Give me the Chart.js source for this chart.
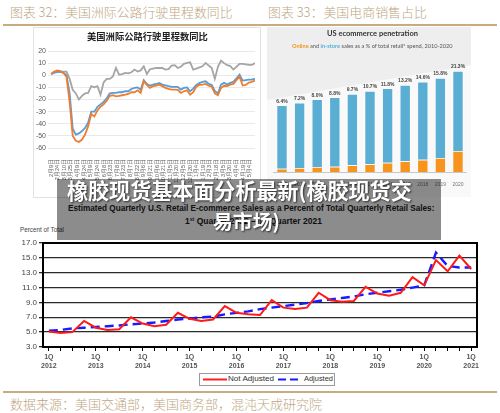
<!DOCTYPE html>
<html><head><meta charset="utf-8">
<script src="https://cdn.jsdelivr.net/npm/chart.js@4.4.1/dist/chart.umd.min.js"></script>
<style>
html,body{margin:0;padding:0;background:#fff;}
body{width:500px;height:413px;overflow:hidden;position:relative;font-family:"Noto Sans CJK SC","Liberation Sans",sans-serif;}
.a{position:absolute;white-space:nowrap;line-height:1;}
.hd{color:#c0a67f;font-weight:300;}
canvas{position:absolute;}
</style></head><body>
<div class="a hd" id="h1">图表 32：美国洲际公路行驶里程数同比</div>
<div class="a hd" id="h2">图表 33：美国电商销售占比</div>
<div class="a" style="left:3px;top:24px;width:494px;height:2px;background:#c9ab80"></div>

<div class="a" style="left:33px;top:27px;width:226px;height:169px;border:1px solid #e2e2e2;background:#fff"></div>
<canvas id="c1" width="227" height="170" style="left:33px;top:27px"></canvas>
<div class="a" id="t1" style="font-weight:bold;color:#222">美国洲际公路行驶里程数同比</div>

<div class="a" style="left:267px;top:27px;width:204px;height:170px;background:#eeeeee"></div>
<div class="a" style="left:267px;top:27px;width:204px;height:170px;background:#f9f9f9;clip-path:polygon(0 73px,100% 38px,100% 100%,0 100%)"></div>
<canvas id="c2" width="204" height="170" style="left:267px;top:27px"></canvas>
<div class="a" id="t2" style="font-family:Lato;font-weight:bold;color:#333">US ecommerce penetration</div>
<div class="a" id="t3" style="font-family:Lato;color:#555"><span style="color:#f7941d;font-weight:bold">Online</span> and <span style="color:#4fb0d8;font-weight:bold">in-store</span> sales as a % of total retail* spend, 2010-2020</div>

<div class="a" id="b1" style="font-family:'Liberation Sans';font-weight:bold;color:#222">Estimated Quarterly U.S. Retail E-commerce Sales as a Percent of Total Quarterly Retail Sales:</div>
<div class="a" id="b2" style="font-family:'Liberation Sans';font-weight:bold;color:#222">1<span style="font-size:0.6em;vertical-align:0.6em">st</span> Quarter 2012 – 1<span style="font-size:0.6em;vertical-align:0.6em">st</span> Quarter 2021</div>
<div class="a" id="pt" style="font-family:'Liberation Sans';color:#444">Percent of Total</div>
<canvas id="c3" width="500" height="150" style="left:0;top:230px"></canvas>

<div class="a" style="left:199px;top:373px;width:134px;height:11px;border:1px solid #9a9a9a;background:#fff"></div>
<svg class="a" style="left:199px;top:373px" width="136" height="13">
  <line x1="4" y1="6.5" x2="28" y2="6.5" stroke="#ff2020" stroke-width="2"/>
  <line x1="79" y1="6.5" x2="103" y2="6.5" stroke="#1a1aff" stroke-width="2" stroke-dasharray="8,4"/>
</svg>
<div class="a" id="l1" style="font-family:'Liberation Sans';color:#333">Not Adjusted</div>
<div class="a" id="l2" style="font-family:'Liberation Sans';color:#333">Adjusted</div>

<div class="a" style="left:57px;top:179px;width:384px;height:61px;background:rgba(0,0,0,0.45)"></div>
<div class="a" id="o1" style="font-weight:bold;color:#fff;text-shadow:1px 1px 2px rgba(0,0,0,0.7)">橡胶现货基本面分析最新(橡胶现货交</div>
<div class="a" id="o2" style="font-weight:bold;color:#fff;text-shadow:1px 1px 2px rgba(0,0,0,0.7)">易市场)</div>

<div class="a" style="left:3px;top:391px;width:494px;height:2px;background:#c9ab80"></div>
<div class="a hd" id="ft">数据来源：美国交通部，美国商务部，混沌天成研究院</div>

<script>
// ---------- Chart 32: US interstate highway miles YoY ----------
const hwDays = [0,7,14,21,28,35,42,49,56,63,70,77,84,91,98,105,112,119,126,133,140,147,154,161,168,175,182,189,196,203,210,217,224,231,238,245,252,259,266,273,280,287,294,301,308,315,322,329,336,343,350,357,364,371,378,385,392,399,406,413,420,427,434,441,448,455,462];
const hwGray = [1,2,2.5,3,3,3,-3,-12,-15,-20,-17,-15,-14.6,-9,-10,-9,-16,-6,-3,-3,-1,6,0.5,1,2,1.5,2.5,4.7,3,4,7.4,1,5,5.5,6,6,6,4.7,5,8,8.3,6,7,9.4,10.2,10.7,4.7,5.5,6.5,7.4,10.2,8,6,-3,7,12,10,8.3,7.5,4.7,7,9.4,9.4,9,8.5,8.5,10];
const hwBlue = [1,2.3,3,2.8,2,0,-15,-44,-49,-48,-46,-43.5,-39,-30,-30,-26,-24,-22,-19,-15,-14.6,-14.6,-14,-14,-13.2,-13.2,-11.3,-10.5,-10,-12,-4,-7.2,-8.5,-7.7,-7.2,-6.3,-7.7,-8.3,-9,-9.6,-9.6,-9.6,-11.8,-10.5,-10,-13.2,-11,-8,-6.5,-5.5,-5,-7,-8,-13,-15,-7.7,-6.3,-7.7,-6.3,-5.5,-2.5,0.5,-4.4,-4,-3.6,-3.5,-3];
const hwOrange = [1,3,4,3.5,2,-1.5,-22,-50,-54,-55,-53,-49,-42,-32,-34,-29,-26,-24,-21,-17,-16.5,-17.4,-17,-16.5,-16,-15.4,-14,-14,-12.4,-14.6,-5,-8,-10.5,-9,-8.5,-7.7,-9,-10.5,-11.3,-11.8,-11.8,-12,-14.6,-13.2,-12.4,-16,-14,-9.5,-8,-7.7,-7.2,-8.5,-9.5,-15,-16.5,-10.5,-8.7,-9,-7.7,-7.2,-4,-1,-8.5,-8,-6,-5.5,-4.4];
const hwTickLabels = ['2月9日','2月24日','3月10日','3月25日','4月9日','4月24日','5月9日','5月24日','6月8日','6月23日','7月8日','7月23日','8月7日','8月22日','9月6日','9月21日','10月6日','10月21日','11月5日','11月20日','12月5日','12月20日','1月4日','1月19日','2月3日','2月18日','3月5日','3月20日','4月4日','4月19日','5月4日'];

// ---------- Chart 33: US ecommerce penetration ----------
const ecYears = ['2010','2011','2012','2013','2014','2015','2016','2017','2018','2019','2020'];
const ecPctLabels = ['6.4%','7.2%','8.0%','8.8%','9.7%','10.7%','11.8%','13.2%','14.6%','15.8%','21.3%'];
const ecOnline = [3.3,4,5,5.3,6.7,7.7,9.3,10.7,12.3,14,21];
const ecInstore = [63.4,65.3,67.7,69.4,71.3,73.3,74.4,76.3,78,80,80];

// ---------- Quarterly e-commerce share ----------
const qYears = ['2012','2013','2014','2015','2016','2017','2018','2019','2020','2021'];
const notAdjusted = [5.1,4.9,5.0,6.5,5.6,5.3,5.4,7.0,6.15,5.8,6.0,7.6,6.8,6.5,6.7,8.5,7.6,7.4,7.3,9.3,8.3,8.1,8.3,10.3,9.3,9.1,9.2,11.1,10.2,9.9,10.3,12.4,11.3,14.7,13.2,15.3,13.5];
const adjusted = [5.2,5.3,5.5,5.6,5.7,5.8,5.9,6.05,6.15,6.3,6.5,6.7,6.8,7.0,7.1,7.4,7.6,7.8,8.1,8.3,8.5,8.7,8.9,9.2,9.4,9.6,9.8,10.1,10.3,10.5,10.7,11.0,11.3,15.7,13.9,13.7,13.7];

function place(id,x0,x1,yc){
  const el=document.getElementById(id);
  el.style.fontSize='20px';
  const w=el.getBoundingClientRect().width;
  const fs=20*(x1-x0)/w;
  el.style.fontSize=fs+'px';
  el.style.left=x0+'px';
  const h=el.getBoundingClientRect().height;
  el.style.top=(yc-h/2)+'px';
}
place('h1',10,233,12);
place('h2',268,427,12);
place('ft',10,322,403);
place('t1',87,208,37);
place('t2',327,418,34);
place('t3',292,453,46);
place('b1',68,435,209);
place('b2',185,322,221);
place('pt',20,64,230);
place('l1',228,274,379);
place('l2',304,333,379);
place('o1',67,412,191);
place('o2',213,280,221);

Chart.defaults.font.family = "'Liberation Sans', sans-serif";

const xy = arr => arr.map((v,i)=>({x:hwDays[i],y:v}));
new Chart(document.getElementById('c1'),{
  type:'line',
  data:{datasets:[
    {data:xy(hwOrange),borderColor:'#ed7d31',borderWidth:1.8,pointRadius:0,tension:0},
    {data:xy(hwBlue),borderColor:'#5b9bd5',borderWidth:1.8,pointRadius:0,tension:0},
    {data:xy(hwGray),borderColor:'#a5a5a5',borderWidth:1.8,pointRadius:0,tension:0}
  ]},
  options:{responsive:false,animation:false,devicePixelRatio:1,
    layout:{padding:{top:24,right:5,left:0,bottom:0}},
    plugins:{legend:{display:false},tooltip:{enabled:false}},
    scales:{
      x:{type:'linear',min:-7,max:462,
        grid:{display:false},border:{display:false},
        ticks:{stepSize:15,includeBounds:false,autoSkip:false,minRotation:90,maxRotation:90,padding:3,
          font:{size:5.5},color:'#595959',
          callback:v=>hwTickLabels[Math.round(v/15)]||''},
        afterFit:s=>{s.height=49;}},
      y:{min:-60,max:20,
        grid:{color:'#e3e3e3',lineWidth:0.8,drawTicks:false},border:{display:false},
        ticks:{stepSize:10,padding:2,font:{size:7},color:'#595959'},
        afterFit:s=>{s.width=15;}}
    }}
});

const pctPlugin={id:'pct',afterDatasetsDraw(chart){
  const ctx=chart.ctx;const meta=chart.getDatasetMeta(1);
  ctx.save();ctx.font='bold 5px "Liberation Sans"';ctx.fillStyle='#444';ctx.textAlign='center';ctx.textBaseline='bottom';
  meta.data.forEach((b,i)=>ctx.fillText(ecPctLabels[i],b.x,b.y-1.5));
  ctx.restore();}};
new Chart(document.getElementById('c2'),{
  type:'bar',
  data:{labels:ecYears,datasets:[
    {data:ecOnline,backgroundColor:'#f7941d',borderColor:'rgba(255,255,255,0.8)',borderWidth:0.8,categoryPercentage:1,barPercentage:0.625},
    {data:ecInstore,backgroundColor:'#5aaed4',borderColor:'rgba(255,255,255,0.8)',borderWidth:0.8,categoryPercentage:1,barPercentage:0.625}
  ]},
  options:{responsive:false,animation:false,devicePixelRatio:1,
    layout:{padding:{top:35,right:4.2,left:6.2,bottom:0}},
    plugins:{legend:{display:false},tooltip:{enabled:false}},
    scales:{
      x:{stacked:true,grid:{display:false},border:{display:true,color:'#c8c8c8'},
        ticks:{font:{size:5},color:'#777',padding:2,maxRotation:0},
        afterFit:s=>{s.height=25;}},
      y:{stacked:true,display:false,min:0,max:110}
    }},
  plugins:[pctPlugin]
});

const qLabels=[];
qYears.forEach(y=>['1Q','2Q','3Q','4Q'].forEach(q=>qLabels.push(q+' '+y)));
qLabels.length=notAdjusted.length;
const framePlugin={id:'frame',afterDraw(chart){
  const a=chart.chartArea,ctx=chart.ctx;ctx.save();ctx.strokeStyle='#000';ctx.lineWidth=2;
  ctx.strokeRect(a.left,a.top,a.right-a.left,a.bottom-a.top);ctx.restore();}};
new Chart(document.getElementById('c3'),{
  type:'line',
  data:{labels:qLabels,datasets:[
    {data:notAdjusted,borderColor:'#ff1a1a',borderWidth:2,pointRadius:0,tension:0},
    {data:adjusted,borderColor:'#1a1aff',borderWidth:2.4,borderDash:[9,5],pointRadius:0,tension:0}
  ]},
  options:{responsive:false,animation:false,devicePixelRatio:1,
    layout:{padding:{top:13,right:23,left:0,bottom:0}},
    plugins:{legend:{display:false},tooltip:{enabled:false}},
    scales:{
      x:{offset:true,grid:{offset:false,drawOnChartArea:false,drawTicks:true,tickLength:4,color:'#000',lineWidth:1},
        border:{display:false},
        ticks:{autoSkip:false,maxRotation:0,minRotation:0,padding:2,font:{size:7,weight:'bold'},color:'#555',
          callback:(v,i)=> i%4===0?['1Q',qYears[i/4]]:''},
        afterFit:s=>{s.height=33;}},
      y:{min:3,max:17,
        grid:{color:'#2a2a2a',lineWidth:1.3,drawTicks:true,tickLength:4},border:{display:false},
        ticks:{stepSize:1,padding:2,font:{size:8},color:'#444',callback:v=>v.toFixed(1)},
        afterFit:s=>{s.width=43;}}
    }},
  plugins:[framePlugin]
});
</script>
</body></html>
